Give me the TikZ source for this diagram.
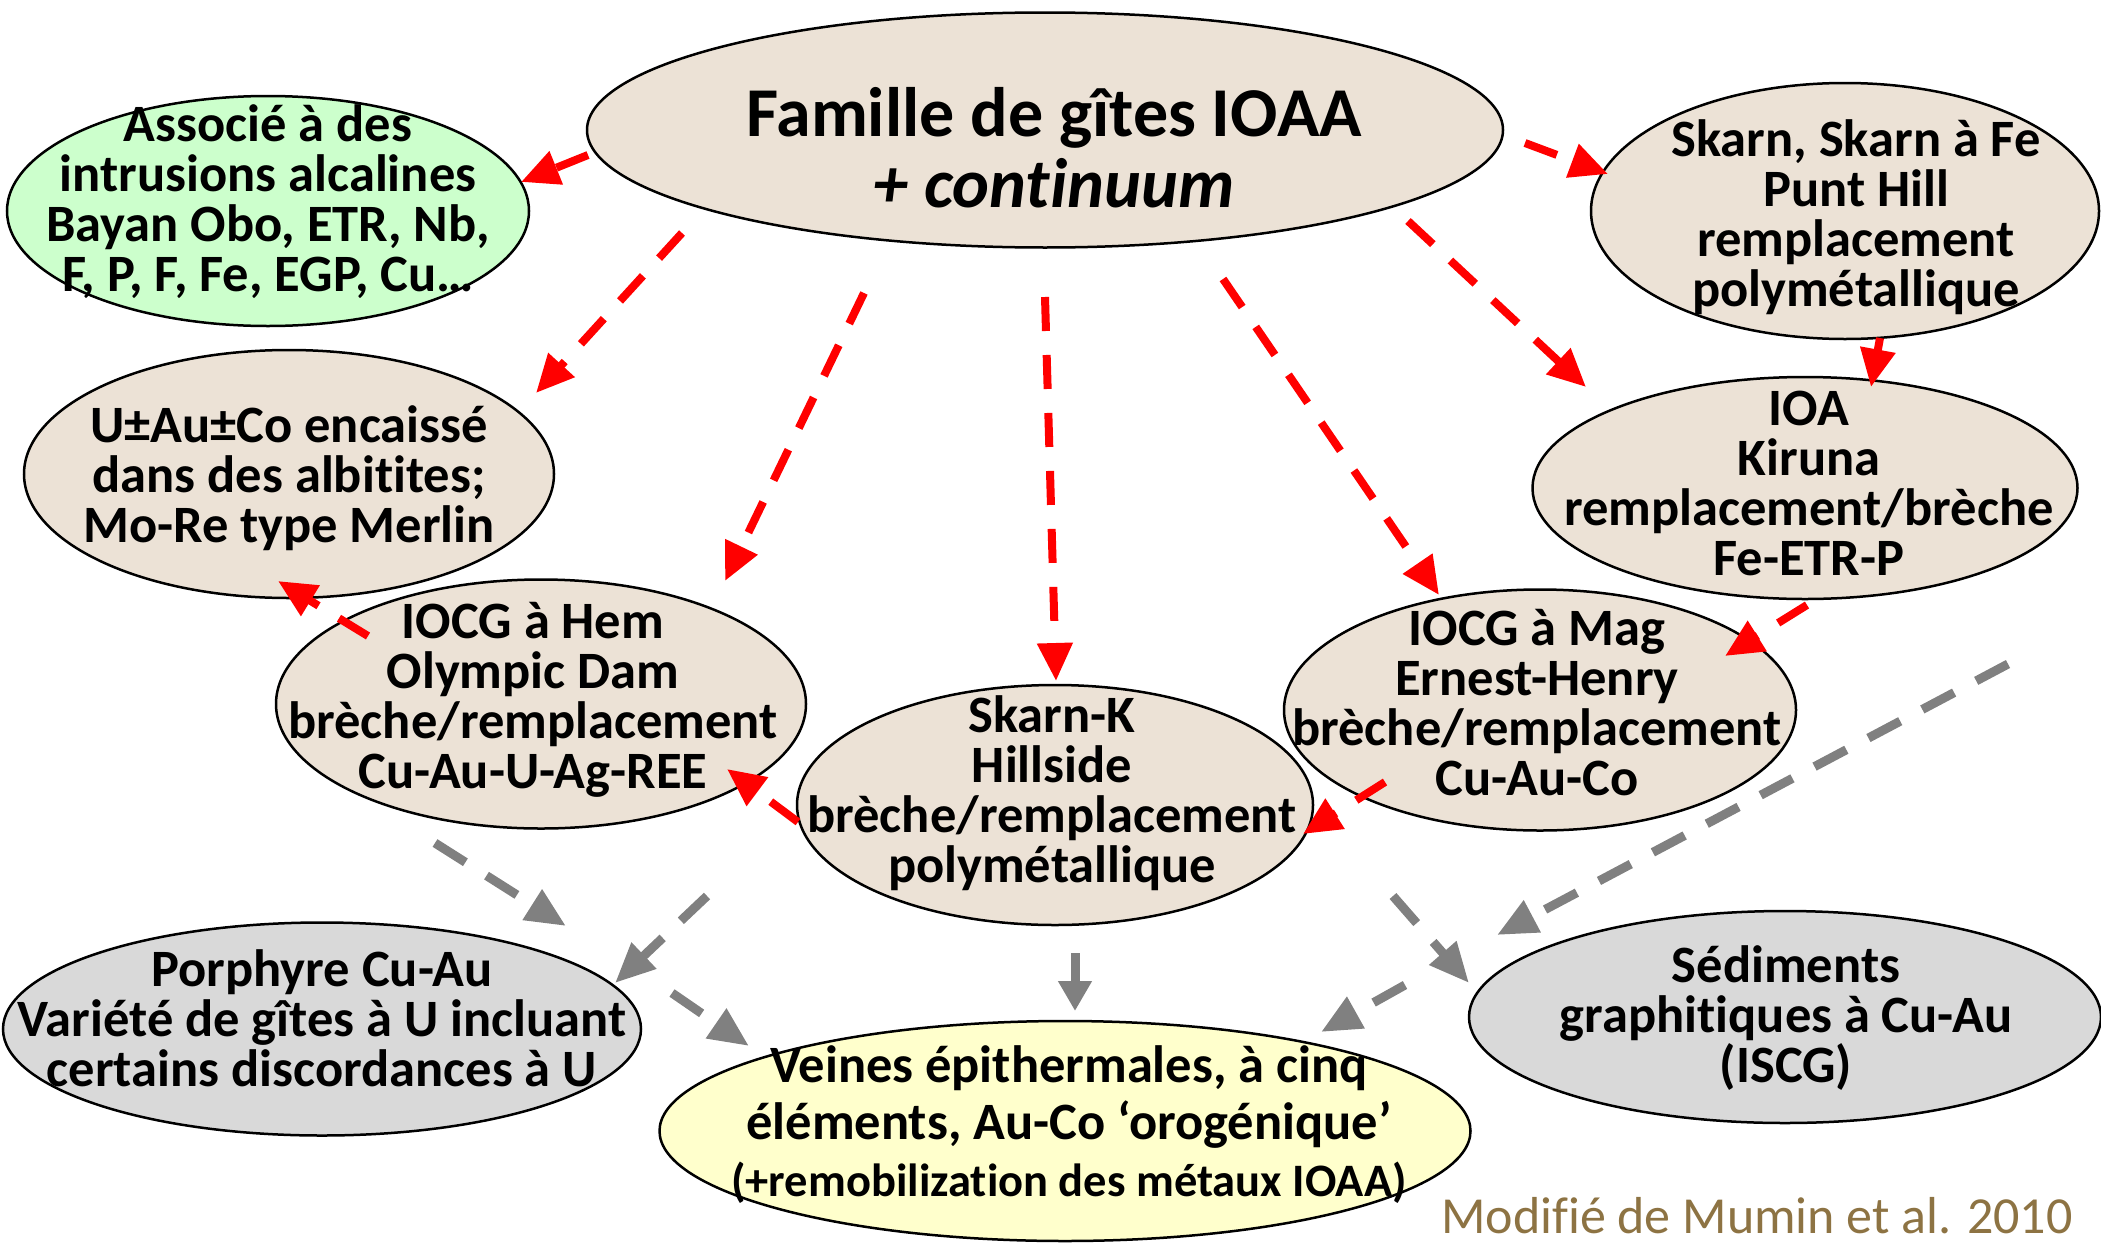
\documentclass[tikz,border=0pt]{standalone}
\usepackage{fontspec}
\setmainfont{Carlito}[Ligatures=NoCommon]
\usetikzlibrary{shapes.geometric,arrows.meta}
\definecolor{beige}{RGB}{236,226,214}
\definecolor{mint}{RGB}{204,255,204}
\definecolor{lgray}{RGB}{217,217,217}
\definecolor{lyellow}{RGB}{255,255,204}
\definecolor{credit}{RGB}{141,115,67}
\definecolor{agray}{RGB}{128,128,128}
\begin{document}
\begin{tikzpicture}[x=1pt,y=-1pt,
  ell/.style={ellipse, draw=black, line width=2.5pt, inner sep=0pt},
  txt/.style={align=center, font=\bfseries\fontsize{52.5}{50}\selectfont, inner sep=0pt},
  redar/.style={draw=red, line width=8pt, dash pattern=on 34pt off 24pt, -{Triangle[length=38pt,width=34pt]}},
  redsolid/.style={draw=red, line width=8pt, -{Triangle[length=38pt,width=34pt]}},
  grayar/.style={draw=agray, line width=9pt, dash pattern=on 36pt off 25pt, -{Triangle[length=40pt,width=34pt]}},
  graysolid/.style={draw=agray, line width=9pt, -{Triangle[length=30pt,width=32pt]}},
]
\useasboundingbox (0,0) rectangle (2101,1242);
% ellipses
\node[ell, fill=beige, minimum width=916pt, minimum height=235pt] (main) at (1045,130) {};
\node[ell, fill=mint, minimum width=522pt, minimum height=230pt] (assoc) at (268,211) {};
\node[ell, fill=beige, minimum width=530pt, minimum height=248pt] (uau) at (289,474) {};
\node[ell, fill=beige, minimum width=530pt, minimum height=249pt] (hem) at (541,704) {};
\node[ell, fill=beige, minimum width=516pt, minimum height=240pt] (skk) at (1055,805) {};
\node[ell, fill=beige, minimum width=512pt, minimum height=241pt] (mag) at (1540,710) {};
\node[ell, fill=beige, minimum width=508pt, minimum height=256pt] (skt) at (1845,211) {};
\node[ell, fill=beige, minimum width=545pt, minimum height=222pt] (ioa) at (1805,488) {};
\node[ell, fill=lgray, minimum width=638pt, minimum height=213pt] (por) at (322,1029) {};
\node[ell, fill=lyellow, minimum width=811pt, minimum height=220pt] (vei) at (1065,1131) {};
\node[ell, fill=lgray, minimum width=632pt, minimum height=212pt] (sed) at (1785,1017) {};
% texts
\node[txt, font=\bfseries\fontsize{70}{71}\selectfont] (maint) at (1054,148) {Famille de gîtes IOAA\\\textit{+ continuum}};
\node[txt] (assoct) at (268,202) {Associé à des\\intrusions alcalines\\Bayan Obo, ETR, Nb,\\F, P, F, Fe, EGP, Cu…};
\node[txt] (uaut) at (289,478) {U±Au±Co encaissé\\dans des albitites;\\Mo-Re type Merlin};
\node[txt] (hemt) at (533,700) {IOCG à Hem\\Olympic Dam\\brèche/remplacement\\Cu-Au-U-Ag-REE};
\node[txt] (skkt) at (1052,793) {Skarn-K\\Hillside\\brèche/remplacement\\polymétallique};
\node[txt] (magt) at (1537,703) {IOCG à Mag\\Ernest-Henry\\brèche/remplacement\\Cu-Au-Co};
\node[txt] (sktt) at (1856,217) {Skarn, Skarn à Fe\\Punt Hill\\remplacement\\polymétallique};
\node[txt] (ioat) at (1809,483) {IOA\\Kiruna\\remplacement/brèche\\Fe-ETR-P};
\node[txt] (port) at (322,1018) {Porphyre Cu-Au\\Variété de gîtes à U incluant\\certains discordances à U};
\node[txt, font=\bfseries\fontsize{52.5}{57}\selectfont] (veit) at (1069,1125) {Veines épithermales, à cinq\\éléments, Au-Co ‘orogénique’\\{\fontsize{46.5}{57}\selectfont(+remobilization des métaux IOAA)}};
\node[txt] (sedt) at (1786,1018) {Sédiments\\graphitiques à Cu-Au\\(ISCG)};
\node[inner sep=0pt, text=credit, font=\fontsize{52}{54}\selectfont, anchor=base] (cred) at (1757,1233) {Modifié de Mumin et al. 2010};
% arrow end points
\coordinate (a0) at (588,155);  \coordinate (a1) at (521,182);
\coordinate (b0) at (682,233);  \coordinate (b1) at (536,393);
\coordinate (c0) at (864,293);  \coordinate (c1) at (725,581);
\coordinate (d0) at (1045,297); \coordinate (d1) at (1056,681);
\coordinate (e0) at (1223,279); \coordinate (e1) at (1439,595);
\coordinate (f0) at (1408,221); \coordinate (f1) at (1586,387);
\coordinate (g0) at (1525,143); \coordinate (g1) at (1608,174);
\coordinate (h0) at (1880,338); \coordinate (h1) at (1871,387);
\coordinate (i0) at (1807,605); \coordinate (i1) at (1725,656);
\coordinate (j0) at (1385,782); \coordinate (j1) at (1303,834);
\coordinate (k0) at (798,822);  \coordinate (k1) at (727,769);
\coordinate (l0) at (368,636);  \coordinate (l1) at (278,581);
\coordinate (m0) at (435,843);  \coordinate (m1) at (566,926);
\coordinate (n0) at (707,896);  \coordinate (n1) at (615,983);
\coordinate (o0) at (672,993);  \coordinate (o1) at (749,1046);
\coordinate (p0) at (1075,953); \coordinate (p1) at (1075,1011);
\coordinate (q0) at (1393,896); \coordinate (q1) at (1469,983);
\coordinate (r0) at (2008,664); \coordinate (r1) at (1497,935);
\coordinate (s0) at (1405,985); \coordinate (s1) at (1321,1032);
% red arrows
\draw[redar] (a0) -- (a1);
\draw[redar] (b0) -- (b1);
\draw[redar] (c0) -- (c1);
\draw[redar] (d0) -- (d1);
\draw[redar] (e0) -- (e1);
\draw[redar] (f0) -- (f1);
\draw[redar] (g0) -- (g1);
\draw[redsolid] (h0) -- (h1);
\draw[redar] (i0) -- (i1);
\draw[redar] (j0) -- (j1);
\draw[redar] (k0) -- (k1);
\draw[redar] (l0) -- (l1);
% gray arrows
\draw[grayar] (m0) -- (m1);
\draw[grayar] (n0) -- (n1);
\draw[grayar] (o0) -- (o1);
\draw[graysolid] (p0) -- (p1);
\draw[grayar] (q0) -- (q1);
\draw[grayar] (r0) -- (r1);
\draw[grayar] (s0) -- (s1);
\end{tikzpicture}
\end{document}
